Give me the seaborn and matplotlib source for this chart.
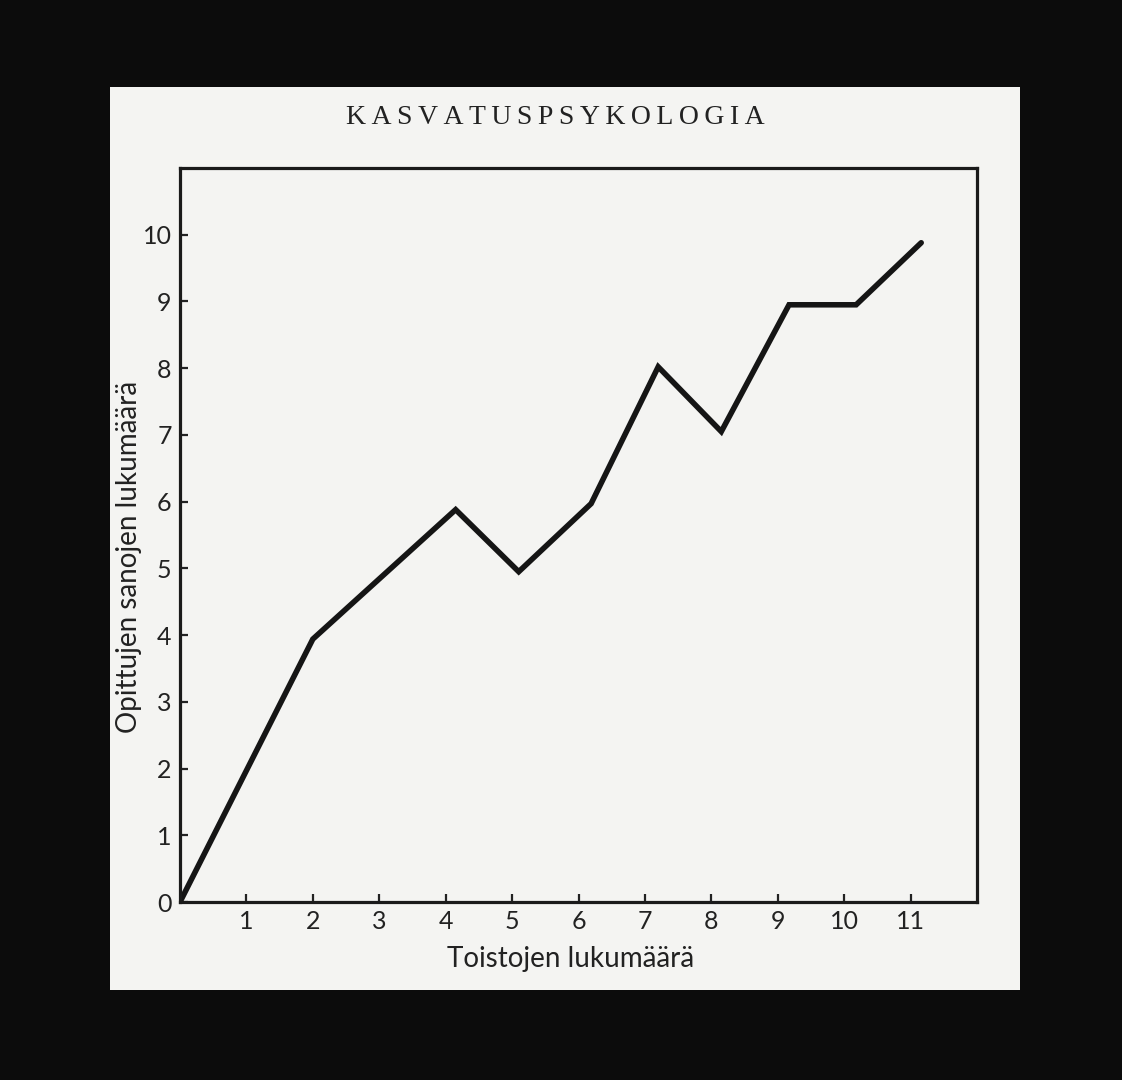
import numpy as np
import pandas as pd
import matplotlib
matplotlib.use("Agg")
import matplotlib.pyplot as plt
from matplotlib.patches import Rectangle
import seaborn as sns

# values
toistot = [0, 2.0, 4.15, 5.1, 6.19, 7.2, 8.15, 9.17, 10.18, 11.16]
opitut = [0, 3.94, 5.88, 4.95, 5.97, 8.02, 7.05, 8.95, 8.95, 9.88]
x_ticks = [1, 2, 3, 4, 5, 6, 7, 8, 9, 10, 11]
y_ticks = [0, 1, 2, 3, 4, 5, 6, 7, 8, 9, 10]

title_text = "KASVATUSPSYKOLOGIA"
x_label = "Toistojen lukumäärä"
y_label = "Opittujen sanojen lukumäärä"

df = pd.DataFrame({"Toistot": toistot, "Opitut": opitut})

sns.set_style("ticks")
plt.rcParams["font.family"] = ["Lato", "DejaVu Sans"]

ink = "#222222"
paper = "#f4f4f2"

fig = plt.figure(figsize=(11.22, 10.8), dpi=100)
fig.patch.set_facecolor("#0c0c0c")

#White slide area
fig.add_artist(Rectangle((110 / 1122, 1 - 990 / 1080), (1020 - 110) / 1122, (990 - 87) / 1080,
                         transform=fig.transFigure, facecolor=paper, edgecolor="none", zorder=0))

ax = fig.add_axes([180 / 1122, 1 - 902 / 1080, (977 - 180) / 1122, (902 - 168) / 1080])
ax.set_facecolor(paper)

sns.lineplot(data=df, x="Toistot", y="Opitut", color="#151515", linewidth=4.0, ax=ax,
             solid_joinstyle="miter")

ax.set_xlim(0, 12)
ax.set_ylim(0, 11)
ax.set_xticks(x_ticks)
ax.set_yticks(y_ticks)
ax.tick_params(direction="in", length=6, width=1.6, colors=ink, labelsize=18, pad=6)

for side in ["top", "bottom", "left", "right"]:
    ax.spines[side].set_visible(True)
    ax.spines[side].set_linewidth(2.3)
    ax.spines[side].set_color("#1a1a1a")

ax.set_xlabel(x_label, fontsize=20, color=ink)
ax.set_ylabel(y_label, fontsize=20, color=ink)
ax.xaxis.set_label_coords(0.49, -0.060)
ax.yaxis.set_label_coords(-0.048, 0.47)

fig.text(555 / 1122, 1 - 118 / 1080, "\u2009".join(title_text), ha="center", va="center",
         fontsize=20, color=ink, family=["Liberation Serif", "DejaVu Serif"])

fig.savefig("out.png", dpi=100, facecolor=fig.get_facecolor())
